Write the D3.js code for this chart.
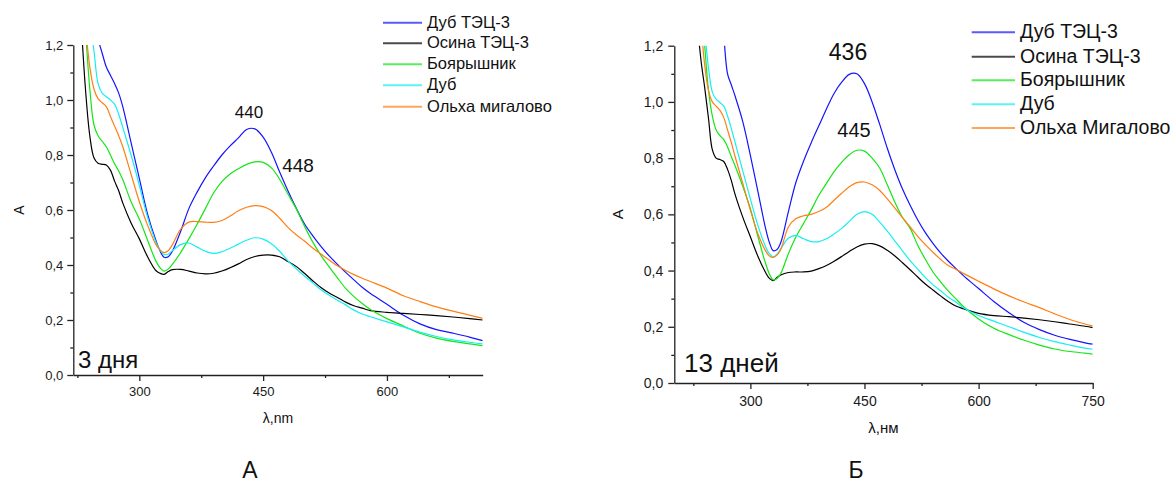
<!DOCTYPE html>
<html>
<head>
<meta charset="utf-8">
<script src="https://cdn.jsdelivr.net/npm/d3@7"></script>
<style>
  body { margin: 0; background: #fff; }
  svg { display: block; font-family: "Liberation Sans", Arial, sans-serif; }
</style>
</head>
<body>
<svg id="chart" width="1176" height="494"></svg>
<script>
// legend names
const namesA = ['Дуб ТЭЦ-3', 'Осина ТЭЦ-3', 'Боярышник', 'Дуб', 'Ольха мигалово'];
const namesB = ['Дуб ТЭЦ-3', 'Осина ТЭЦ-3', 'Боярышник', 'Дуб', 'Ольха Мигалово'];
const colors = ['#1414ff', '#000000', '#14e614', '#18eef0', '#ff7f14'];

// panel A (3 дня), wavelength grid, nm
const wlA = [226, 230, 235, 240, 245, 250, 255, 260, 265, 270, 275, 280, 290, 300, 310, 320, 325, 330, 335, 340,
  350, 360, 370, 380, 390, 400, 410, 420, 430, 440, 450, 460, 470, 480, 490, 500, 510, 520, 530, 540,
  550, 560, 570, 580, 600, 620, 640, 660, 680, 700, 716];
const oakTecA = [1.55, 1.48, 1.41, 1.33, 1.27, 1.22, 1.17, 1.12, 1.09, 1.06, 1.025, 0.975, 0.845, 0.715, 0.585, 0.49, 0.452, 0.428, 0.43, 0.45,
  0.522, 0.605, 0.665, 0.717, 0.76, 0.8, 0.833, 0.862, 0.893, 0.895, 0.865, 0.81, 0.738, 0.67, 0.607, 0.55, 0.507, 0.468, 0.433, 0.402,
  0.373, 0.346, 0.319, 0.296, 0.257, 0.217, 0.186, 0.165, 0.152, 0.138, 0.125];
const aspenTecA = [1.5, 1.26, 1.03, 0.87, 0.79, 0.77, 0.766, 0.764, 0.745, 0.705, 0.67, 0.625, 0.553, 0.495, 0.43, 0.38, 0.37, 0.366, 0.376, 0.383,
  0.384, 0.378, 0.371, 0.368, 0.37, 0.378, 0.39, 0.404, 0.42, 0.431, 0.436, 0.436, 0.43, 0.413, 0.395, 0.37, 0.343, 0.318, 0.298, 0.282,
  0.265, 0.252, 0.243, 0.234, 0.228, 0.224, 0.22, 0.216, 0.211, 0.205, 0.2];
const hawthornA = [1.6, 1.42, 1.24, 1.04, 0.91, 0.87, 0.85, 0.83, 0.8, 0.768, 0.742, 0.71, 0.63, 0.567, 0.49, 0.415, 0.39, 0.378, 0.385, 0.402,
  0.445, 0.495, 0.548, 0.605, 0.662, 0.703, 0.731, 0.75, 0.766, 0.775, 0.773, 0.753, 0.712, 0.658, 0.605, 0.542, 0.484, 0.435, 0.393, 0.353,
  0.315, 0.285, 0.26, 0.238, 0.205, 0.178, 0.152, 0.134, 0.122, 0.113, 0.107];
const oakA = [1.65, 1.52, 1.4, 1.28, 1.18, 1.06, 1.025, 1.012, 1.0, 0.985, 0.948, 0.9, 0.8, 0.69, 0.573, 0.484, 0.455, 0.438, 0.44, 0.452,
  0.474, 0.48, 0.465, 0.45, 0.442, 0.448, 0.461, 0.476, 0.49, 0.499, 0.494, 0.477, 0.45, 0.415, 0.387, 0.36, 0.335, 0.31, 0.29, 0.272,
  0.255, 0.236, 0.222, 0.212, 0.193, 0.175, 0.156, 0.14, 0.128, 0.119, 0.113];
const alderA = [1.55, 1.42, 1.26, 1.12, 1.04, 1.005, 0.99, 0.976, 0.94, 0.905, 0.87, 0.83, 0.73, 0.63, 0.545, 0.475, 0.455, 0.445, 0.452, 0.473,
  0.53, 0.556, 0.558, 0.556, 0.555, 0.562, 0.578, 0.597, 0.61, 0.616, 0.612, 0.598, 0.57, 0.537, 0.51, 0.487, 0.462, 0.44, 0.418, 0.397,
  0.38, 0.365, 0.352, 0.34, 0.316, 0.288, 0.267, 0.248, 0.232, 0.218, 0.206];

// panel Б (13 дней)
const wlB = [226, 230, 235, 240, 245, 250, 255, 260, 265, 270, 275, 280, 290, 300, 310, 320, 325, 330, 335, 340,
  350, 360, 370, 380, 390, 400, 410, 420, 430, 440, 450, 460, 470, 480, 490, 500, 510, 520, 530, 540,
  550, 560, 570, 580, 600, 620, 640, 660, 680, 700, 720, 740, 750];
const oakTecB = [2.2, 2.1, 1.95, 1.85, 1.75, 1.65, 1.55, 1.42, 1.24, 1.1, 1.06, 1.02, 0.93, 0.81, 0.68, 0.55, 0.5, 0.471, 0.475, 0.5,
  0.61, 0.715, 0.79, 0.855, 0.915, 0.975, 1.03, 1.07, 1.098, 1.1, 1.065, 1.0, 0.92, 0.835, 0.758, 0.69, 0.632, 0.58, 0.535, 0.497,
  0.463, 0.434, 0.408, 0.382, 0.336, 0.29, 0.25, 0.215, 0.19, 0.17, 0.155, 0.143, 0.138];
const aspenTecB = [1.5, 1.3, 1.15, 1.05, 0.94, 0.83, 0.8, 0.795, 0.788, 0.76, 0.72, 0.67, 0.59, 0.52, 0.45, 0.393, 0.372, 0.364, 0.375, 0.384,
  0.393, 0.395, 0.395, 0.398, 0.407, 0.418, 0.433, 0.45, 0.468, 0.484, 0.494, 0.496, 0.488, 0.472, 0.452, 0.428, 0.403, 0.377, 0.352, 0.331,
  0.31, 0.29, 0.274, 0.264, 0.248, 0.24, 0.236, 0.231, 0.225, 0.218, 0.21, 0.202, 0.197];
const hawthornB = [1.8, 1.6, 1.38, 1.2, 1.04, 0.95, 0.9, 0.88, 0.866, 0.84, 0.805, 0.772, 0.7, 0.62, 0.52, 0.425, 0.388, 0.367, 0.372, 0.39,
  0.46, 0.52, 0.568, 0.616, 0.668, 0.71, 0.752, 0.785, 0.812, 0.828, 0.825, 0.8, 0.765, 0.705, 0.643, 0.589, 0.55, 0.49, 0.44, 0.395,
  0.36, 0.328, 0.3, 0.272, 0.228, 0.195, 0.172, 0.152, 0.135, 0.121, 0.112, 0.106, 0.103];
const oakB = [1.7, 1.55, 1.38, 1.25, 1.12, 1.035, 1.01, 0.998, 0.985, 0.95, 0.905, 0.855, 0.755, 0.655, 0.56, 0.485, 0.46, 0.449, 0.458, 0.478,
  0.515, 0.525, 0.513, 0.503, 0.503, 0.513, 0.53, 0.55, 0.575, 0.6, 0.61, 0.6, 0.572, 0.54, 0.505, 0.47, 0.435, 0.405, 0.375, 0.35,
  0.328, 0.306, 0.288, 0.268, 0.24, 0.22, 0.2, 0.18, 0.162, 0.147, 0.135, 0.124, 0.12];
const alderB = [1.65, 1.48, 1.28, 1.13, 1.04, 1.0, 0.985, 0.97, 0.945, 0.9, 0.855, 0.805, 0.71, 0.615, 0.53, 0.47, 0.452, 0.447, 0.455, 0.475,
  0.555, 0.585, 0.595, 0.6, 0.61, 0.625, 0.65, 0.675, 0.698, 0.713, 0.715, 0.705, 0.685, 0.655, 0.622, 0.588, 0.555, 0.522, 0.492, 0.465,
  0.44, 0.418, 0.405, 0.39, 0.362, 0.335, 0.31, 0.288, 0.268, 0.246, 0.226, 0.21, 0.203];

const yMajor = [0, 0.2, 0.4, 0.6, 0.8, 1.0, 1.2];
const yMinor = [0.1, 0.3, 0.5, 0.7, 0.9, 1.1];
const xMajorA = [300, 450, 600];
const xMajorB = [300, 450, 600, 750];
const xMinor = [225, 375, 525, 675];

const svg = d3.select('#chart');
const fmtY = (d) => d.toFixed(1).replace('.', ',');

function drawPanel(p) {
  const x = d3.scaleLinear().domain(p.xDomain).range([p.left, p.right]);
  const y = d3.scaleLinear().domain([0, 1.2]).range([p.bottom, p.top]);
  const g = svg.append('g');

  const clipId = 'clip' + p.id;
  g.append('clipPath').attr('id', clipId)
    .append('rect')
    .attr('x', p.left).attr('y', p.top)
    .attr('width', p.right - p.left).attr('height', p.bottom - p.top);

  const line = d3.line()
    .x((d) => x(d[0]))
    .y((d) => y(d[1]))
    .curve(d3.curveCatmullRom.alpha(0.5));

  const curves = g.append('g').attr('clip-path', `url(#${clipId})`);
  p.series.forEach((vals, i) => {
    curves.append('path')
      .datum(p.wl.map((w, j) => [w, vals[j]]))
      .attr('d', line)
      .attr('fill', 'none')
      .attr('stroke', colors[i])
      .attr('stroke-width', 1.2);
  });

  // minor ticks first
  g.append('g')
    .attr('transform', `translate(${p.left},0)`)
    .call(d3.axisLeft(y).tickValues(yMinor).tickSize(3).tickFormat(''))
    .call((s) => s.select('.domain').remove());
  g.append('g')
    .attr('transform', `translate(0,${p.bottom})`)
    .call(d3.axisBottom(x).tickValues(xMinor).tickSize(3).tickFormat(''))
    .call((s) => s.select('.domain').remove());

  const yAxis = g.append('g')
    .attr('transform', `translate(${p.left},0)`)
    .call(d3.axisLeft(y).tickValues(yMajor).tickSize(6).tickSizeOuter(0).tickPadding(p.padY).tickFormat(fmtY));
  const xAxis = g.append('g')
    .attr('transform', `translate(0,${p.bottom})`)
    .call(d3.axisBottom(x).tickValues(p.xMajor).tickSize(6).tickSizeOuter(0).tickPadding(p.padX));

  [yAxis, xAxis].forEach((a) => {
    a.selectAll('text').attr('font-size', p.tickFont).attr('fill', '#1a1a1a')
      .attr('font-family', '"Liberation Sans", Arial, sans-serif');
  });
  g.selectAll('.domain, .tick line').attr('stroke', '#222').attr('stroke-width', 1.3);

  // axis titles
  g.append('text')
    .attr('x', (p.left + p.right) / 2).attr('y', p.xLabelY)
    .attr('text-anchor', 'middle').attr('font-size', p.labelFont).attr('fill', '#111')
    .text(p.xLabel);
  g.append('text')
    .attr('transform', `translate(${p.yLabelX},${(p.top + p.bottom) / 2}) rotate(-90)`)
    .attr('text-anchor', 'middle').attr('font-size', p.labelFont).attr('fill', '#111')
    .text('A');

  // legend
  p.names.forEach((n, i) => {
    const ly = p.legY[i];
    g.append('line')
      .attr('x1', p.legX).attr('x2', p.legX + p.legLen)
      .attr('y1', ly).attr('y2', ly)
      .attr('stroke', colors[i]).attr('stroke-width', 2).attr('opacity', 0.7);
    g.append('text')
      .attr('x', p.legX + p.legLen + 5).attr('y', ly - 1 + 0.358 * p.legFont)
      .attr('font-size', p.legFont).attr('fill', '#111')
      .text(n);
  });

  // peak labels and duration
  p.notes.forEach((n) => {
    g.append('text')
      .attr('x', n.x).attr('y', n.y)
      .attr('text-anchor', n.anchor || 'middle')
      .attr('font-size', n.size).attr('fill', '#111')
      .text(n.text);
  });
}

drawPanel({
  id: 'A', wl: wlA, series: [oakTecA, aspenTecA, hawthornA, oakA, alderA], names: namesA,
  xDomain: [220, 716], xMajor: xMajorA,
  left: 73.3, right: 482.7, top: 45, bottom: 375,
  padY: 4, padX: 6, tickFont: 13, labelFont: 14,
  xLabel: 'λ,nm', xLabelY: 423, yLabelX: 24,
  legX: 383, legLen: 39, legY: [22.7, 43.3, 64.3, 85.3, 106.7], legFont: 16.5,
  notes: [
    { text: '440', x: 249, y: 118, size: 17 },
    { text: '448', x: 298, y: 172, size: 19 },
    { text: '3 дня', x: 78, y: 368, size: 24, anchor: 'start' },
  ],
});

drawPanel({
  id: 'B', wl: wlB, series: [oakTecB, aspenTecB, hawthornB, oakB, alderB], names: namesB,
  xDomain: [200, 750], xMajor: xMajorB,
  left: 674.3, right: 1092.7, top: 45.7, bottom: 383,
  padY: 5, padX: 7, tickFont: 14, labelFont: 15,
  xLabel: 'λ,нм', xLabelY: 433, yLabelX: 623,
  legX: 971.7, legLen: 43.3, legY: [32.3, 56.7, 80.3, 104.3, 128], legFont: 19.5,
  notes: [
    { text: '436', x: 848, y: 60, size: 23 },
    { text: '445', x: 854, y: 137, size: 20 },
    { text: '13 дней', x: 684, y: 371.7, size: 26, anchor: 'start' },
  ],
});

// sub-figure letters
svg.append('text').attr('x', 250).attr('y', 478).attr('text-anchor', 'middle')
  .attr('font-size', 23).attr('fill', '#111').text('А');
svg.append('text').attr('x', 856).attr('y', 478).attr('text-anchor', 'middle')
  .attr('font-size', 23).attr('fill', '#111').text('Б');
</script>
</body>
</html>
